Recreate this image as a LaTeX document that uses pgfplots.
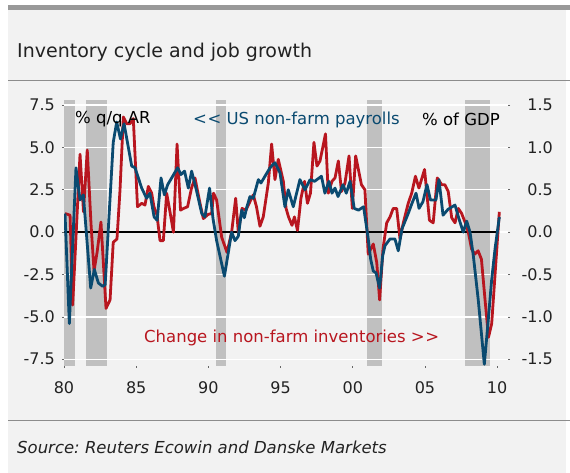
\documentclass[border=0pt]{standalone}
\usepackage{pgfplots}
\pgfplotsset{compat=1.18}
\usepackage{fontspec}
\setmainfont{DejaVu Sans}[ItalicFont={DejaVu Sans Oblique}]
\frenchspacing
\definecolor{panel}{HTML}{F2F2F2}
\definecolor{recg}{HTML}{C0C0C0}
\definecolor{blu}{HTML}{0A4A70}
\definecolor{rd}{HTML}{B8161F}
\definecolor{topbar}{HTML}{999999}
\definecolor{sep}{HTML}{8C8C8C}
\definecolor{txt}{HTML}{222222}
\pgfplotsset{
  common/.style={at={(64pt,107pt)}, anchor=south west, scale only axis,
    width=444pt, height=266pt, xmin=1980, xmax=2010.75},
  ticklbl/.style={font=\fontsize{16}{18}\selectfont, text=txt}
}
\begin{document}
\begin{tikzpicture}[x=1pt,y=1pt]
\useasboundingbox (0,0) rectangle (570,473);
\fill[white] (0,0) rectangle (570,473);
\fill[panel] (8,0) rectangle (566,468);
\fill[topbar] (8,463) rectangle (570,468);
\node[anchor=base west, inner sep=0pt, font=\fontsize{19}{22}\selectfont, text=txt] at (17,415) {Inventory cycle and job growth};
\draw[sep, line width=1pt] (8,392) -- (570,392);
\draw[sep, line width=1pt] (8,52) -- (570,52);
\node[anchor=base west, inner sep=0pt, font=\fontsize{16.5}{19}\selectfont\itshape, text=txt] at (17,19) {Source: Reuters Ecowin and Danske Markets};

% recession bars
\begin{axis}[common, ymin=-7.9, ymax=7.8, hide axis]
\addplot[fill=recg, draw=none] coordinates {(1980,-7.9) (1980,7.8) (1980.75,7.8) (1980.75,-7.9)} --cycle;
\addplot[fill=recg, draw=none] coordinates {(1981.5,-7.9) (1981.5,7.8) (1983.0,7.8) (1983.0,-7.9)} --cycle;
\addplot[fill=recg, draw=none] coordinates {(1990.5,-7.9) (1990.5,7.8) (1991.25,7.8) (1991.25,-7.9)} --cycle;
\addplot[fill=recg, draw=none] coordinates {(2001.0,-7.9) (2001.0,7.8) (2002.0,7.8) (2002.0,-7.9)} --cycle;
\addplot[fill=recg, draw=none] coordinates {(2007.75,-7.9) (2007.75,7.8) (2009.5,7.8) (2009.5,-7.9)} --cycle;
\end{axis}

% right axis: inventories
\begin{axis}[common, ymin=-1.58, ymax=1.56,
  axis x line=none, axis y line*=right, axis line style={draw=none},
  ytick={-1.5,-1,-0.5,0,0.5,1,1.5},
  yticklabels={-1.5,-1.0,-0.5,0.0,0.5,1.0,1.5},
  ymajorgrids, grid style={white, line width=1.3pt},
  tick align=outside, major tick length=2pt,
  tick style={black!60, line width=0.6pt},
  yticklabel style={ticklbl, anchor=east, inner sep=0pt, xshift=43pt}]
\addplot[black, line width=1.3pt] coordinates {(1980,0) (2010.12,0)};
\addplot[rd, line width=2.8pt, line join=round] coordinates {
(1980.07,0.22) (1980.42,0.20) (1980.60,-0.86) (1981.11,0.92) (1981.35,0.24) (1981.61,0.97) (1981.87,0.10) (1982.08,-0.46) (1982.29,-0.24) (1982.56,0.12) (1982.91,-0.90) (1983.19,-0.80) (1983.41,-0.12) (1983.67,-0.08) (1983.88,0.50) (1984.11,1.36) (1984.34,1.28) (1984.57,1.28) (1984.80,1.34) (1985.09,0.30) (1985.38,0.34) (1985.61,0.32) (1985.84,0.54) (1986.07,0.46) (1986.23,0.30) (1986.44,0.20) (1986.65,-0.10) (1986.88,-0.10) (1987.11,0.46) (1987.34,0.24) (1987.58,0.00) (1987.83,1.04) (1988.07,0.26) (1988.28,0.28) (1988.56,0.30) (1988.83,0.52) (1989.07,0.64) (1989.42,0.34) (1989.65,0.16) (1989.99,0.21) (1990.23,0.22) (1990.36,0.46) (1990.57,0.38) (1990.92,-0.06) (1991.29,-0.24) (1991.61,0.00) (1991.89,0.40) (1992.07,0.00) (1992.33,0.28) (1992.60,0.26) (1992.88,0.36) (1993.11,0.44) (1993.33,0.30) (1993.57,0.07) (1993.80,0.18) (1994.15,0.58) (1994.38,1.04) (1994.61,0.62) (1994.84,0.86) (1995.19,0.60) (1995.38,0.28) (1995.55,0.18) (1995.79,0.08) (1995.96,0.18) (1996.17,0.02) (1996.41,0.40) (1996.66,0.60) (1996.86,0.34) (1997.07,0.46) (1997.31,1.06) (1997.52,0.78) (1997.73,0.84) (1998.11,1.16) (1998.30,0.46) (1998.56,0.60) (1998.77,0.64) (1999.00,0.84) (1999.22,0.48) (1999.46,0.58) (1999.74,0.90) (1999.97,0.28) (2000.20,0.90) (2000.60,0.56) (2000.84,0.50) (2001.07,-0.26) (2001.42,-0.14) (2001.66,-0.36) (2001.86,-0.80) (2002.09,-0.20) (2002.35,0.11) (2002.58,0.18) (2002.80,0.28) (2003.04,0.28) (2003.27,-0.08) (2003.50,0.11) (2003.84,0.34) (2004.08,0.46) (2004.34,0.66) (2004.58,0.52) (2004.97,0.74) (2005.31,0.14) (2005.57,0.11) (2005.85,0.64) (2006.16,0.56) (2006.38,0.56) (2006.61,0.48) (2006.85,0.17) (2007.08,0.11) (2007.31,0.28) (2007.54,0.22) (2007.77,0.12) (2008.00,0.00) (2008.23,-0.20) (2008.45,-0.26) (2008.68,-0.22) (2008.91,-0.32) (2009.16,-0.80) (2009.40,-1.24) (2009.62,-1.08) (2010.15,0.24)};
\end{axis}

% left axis: payrolls
\begin{axis}[common, ymin=-7.9, ymax=7.8,
  axis x line*=bottom, axis y line*=left, axis line style={draw=none},
  xtick={1980,1985,1990,1995,2000,2005,2010},
  xticklabels={80,85,90,95,00,05,10},
  ytick={-7.5,-5,-2.5,0,2.5,5,7.5},
  yticklabels={-7.5,-5.0,-2.5,0.0,2.5,5.0,7.5},
  tick align=outside, major tick length=2pt,
  tick style={black!60, line width=0.6pt},
  yticklabel style={ticklbl, anchor=east, inner sep=0pt, xshift=-7pt},
  xticklabel style={ticklbl, anchor=north, inner sep=0pt, yshift=-13pt}]
\addplot[blu, line width=2.8pt, line join=round] coordinates {
(1980.07,1.1) (1980.37,-5.4) (1980.83,3.8) (1981.11,1.9) (1981.34,2.2) (1981.85,-3.3) (1982.10,-2.2) (1982.38,-3.0) (1982.68,-3.2) (1982.85,-3.1) (1983.41,5.3) (1983.65,6.5) (1983.91,5.5) (1984.16,6.4) (1984.69,3.9) (1984.92,3.8) (1985.38,2.6) (1985.72,2.0) (1985.95,2.3) (1986.24,0.9) (1986.45,0.7) (1986.72,3.2) (1986.95,2.2) (1987.18,2.8) (1987.87,3.8) (1988.10,3.4) (1988.35,3.6) (1988.61,2.6) (1988.84,3.6) (1989.19,2.4) (1989.54,1.1) (1989.76,0.9) (1990.08,2.6) (1990.32,0.8) (1990.57,-0.5) (1991.11,-2.6) (1991.61,0.0) (1991.84,-0.5) (1992.07,-0.25) (1992.31,1.3) (1992.49,0.85) (1992.65,1.44) (1992.88,2.1) (1993.11,2.0) (1993.46,3.1) (1993.64,2.9) (1993.92,3.3) (1994.27,3.8) (1994.61,4.1) (1994.96,3.5) (1995.30,1.5) (1995.53,2.5) (1995.88,1.5) (1996.34,3.1) (1996.69,2.5) (1997.04,3.1) (1997.36,3.0) (1997.83,3.3) (1998.07,2.3) (1998.35,3.0) (1998.56,2.3) (1998.77,2.6) (1998.98,2.1) (1999.32,2.8) (1999.55,2.3) (1999.81,3.0) (2000.10,1.4) (2000.40,1.3) (2000.75,1.5) (2001.07,-0.4) (2001.24,-1.6) (2001.42,-2.3) (2001.61,-2.4) (2001.86,-3.3) (2002.07,-1.4) (2002.23,-0.8) (2002.58,-0.4) (2002.92,-0.4) (2003.15,-1.1) (2003.41,0.2) (2003.84,1.1) (2004.10,1.7) (2004.38,2.3) (2004.59,1.4) (2004.86,1.8) (2005.14,2.8) (2005.38,1.9) (2005.76,1.9) (2005.97,3.1) (2006.25,1.0) (2006.59,1.34) (2007.08,1.6) (2007.35,0.8) (2007.65,0.0) (2007.89,0.65) (2008.12,0.0) (2008.35,-1.4) (2008.69,-4.0) (2009.11,-7.8) (2009.35,-5.5) (2009.62,-2.8) (2009.85,-1.0) (2010.15,0.9)};
\end{axis}

\node[anchor=base west, inner sep=0pt, font=\fontsize{16.5}{19}\selectfont, text=black] at (75,349) {\% q/q AR};
\node[anchor=base west, inner sep=0pt, font=\fontsize{16.5}{19}\selectfont, text=blu] at (193,348) {<\hspace{0.5pt}< US non-farm payrolls};
\node[anchor=base west, inner sep=0pt, font=\fontsize{16.5}{19}\selectfont, text=black] at (422,347) {\% of GDP};
\node[anchor=base west, inner sep=0pt, font=\fontsize{16.5}{19}\selectfont, text=rd] at (144,130) {Change in non-farm inventories >\hspace{0.5pt}>};
\end{tikzpicture}
\end{document}
